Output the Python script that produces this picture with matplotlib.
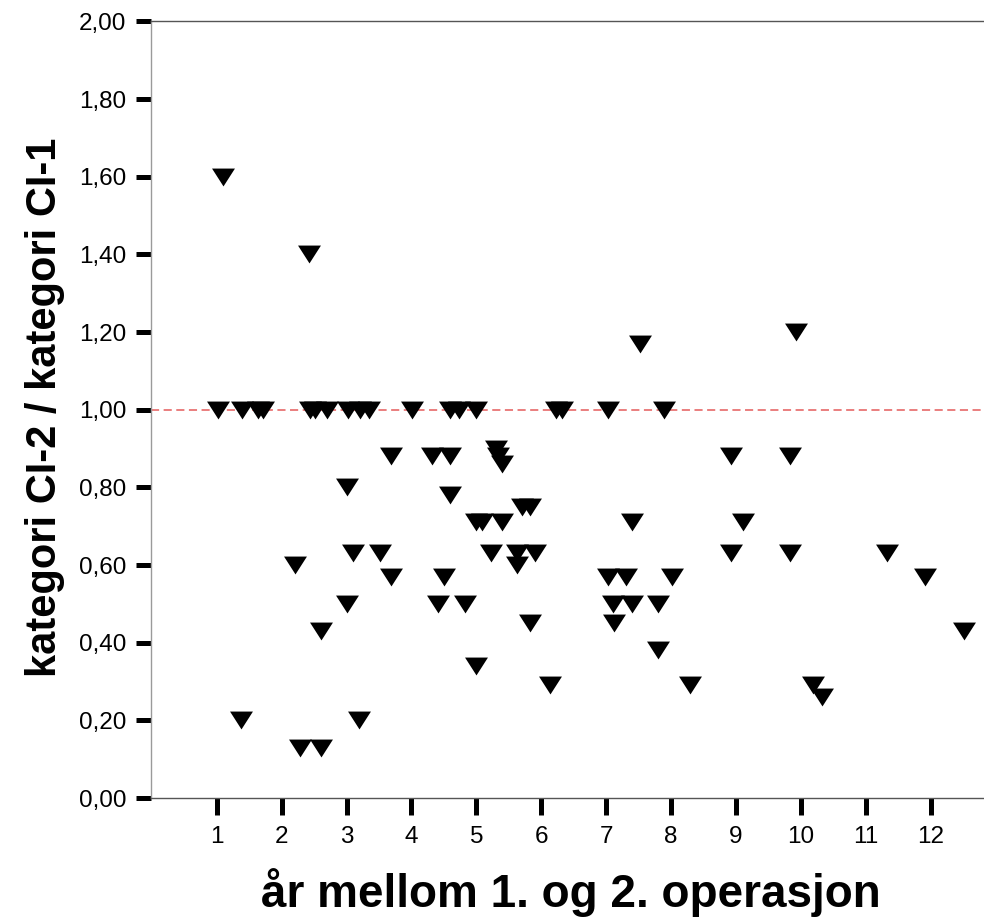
import matplotlib
matplotlib.use("Agg")
import matplotlib.pyplot as plt
from matplotlib.ticker import FuncFormatter

# years between 1st and 2nd operation, ratio CI-2 / CI-1
years = [1.02, 1.39, 1.63, 1.72, 2.43, 2.51, 2.70, 3.02, 3.20, 3.34,
         4.01, 4.60, 4.74, 5.00, 6.22, 6.32, 7.03, 7.89,
         1.09, 2.42, 7.52, 9.92,
         3.69, 4.32, 4.60, 8.93, 9.83, 5.30, 5.33, 5.40,
         3.01, 4.59, 5.70, 5.83,
         5.00, 5.08, 5.40, 7.39, 9.11,
         3.10, 3.51, 5.23, 5.63, 5.91, 8.93, 9.83, 11.33,
         5.63, 2.20,
         3.69, 4.50, 7.03, 7.31, 8.02, 11.91,
         3.01, 4.41, 4.82, 7.11, 7.40, 7.80,
         2.60, 5.82, 7.12, 12.51,
         7.80, 5.00,
         6.13, 8.29, 10.19, 10.33,
         1.38, 3.19,
         2.28, 2.60]
ratio = [1.00] * 18 + \
        [1.60, 1.40, 1.17, 1.20,
         0.88, 0.88, 0.88, 0.88, 0.88, 0.90, 0.88, 0.86,
         0.80, 0.78, 0.75, 0.75,
         0.71, 0.71, 0.71, 0.71, 0.71,
         0.63, 0.63, 0.63, 0.63, 0.63, 0.63, 0.63, 0.63,
         0.60, 0.60,
         0.57, 0.57, 0.57, 0.57, 0.57, 0.57,
         0.50, 0.50, 0.50, 0.50, 0.50, 0.50,
         0.43, 0.45, 0.45, 0.43,
         0.38, 0.34,
         0.29, 0.29, 0.29, 0.26,
         0.20, 0.20,
         0.13, 0.13]

x_ticks = list(range(1, 13))
y_ticks = [0.0, 0.2, 0.4, 0.6, 0.8, 1.0, 1.2, 1.4, 1.6, 1.8, 2.0]
ref_line = 1.0

plt.rcParams['font.family'] = ['Liberation Sans', 'DejaVu Sans']

fig = plt.figure(figsize=(9.84, 9.22), dpi=100)
ax = fig.add_axes([150.5 / 984, 124 / 922, 1 - 150.5 / 984, (798 - 21.5) / 922])

# wide, flat down-pointing triangle like the original marker
tri = [(-1, 0.78), (1, 0.78), (0, -0.78), (-1, 0.78)]
ax.plot(years, ratio, linestyle="none", marker=tri, markersize=16.5,
        color="black", markeredgewidth=0, zorder=3)

ax.axhline(ref_line, color="#e87474", linewidth=1.3, dashes=(4.5, 2.5), zorder=2)

ax.set_xlim(-0.02, 12.82)
ax.set_ylim(0, 2)
ax.set_xticks(x_ticks)
ax.set_yticks(y_ticks)
ax.yaxis.set_major_formatter(FuncFormatter(lambda v, _: "{:.2f}".format(v).replace(".", ",")))

ax.tick_params(axis="y", length=10.8, width=3.6, color="black", pad=6.5,
               labelsize=17.5)
ax.tick_params(axis="x", length=12, width=3.6, color="black", pad=8,
               labelsize=17.5)

ax.spines["right"].set_visible(False)
ax.spines["left"].set_color("#9a9a9a")
ax.spines["top"].set_color("#555555")
ax.spines["bottom"].set_color("#555555")
for s in ["left", "top", "bottom"]:
    ax.spines[s].set_linewidth(1.0)

fig.text(45 / 984, 1 - 407 / 922, "kategori CI-2 / kategori CI-1", rotation=90,
         fontsize=30, fontweight="bold", ha="center", va="center")
fig.text(571 / 984, 1 - 893 / 922, "år mellom 1. og 2. operasjon",
         fontsize=33, fontweight="bold", ha="center", va="center")

fig.savefig("out.png", dpi=100)
